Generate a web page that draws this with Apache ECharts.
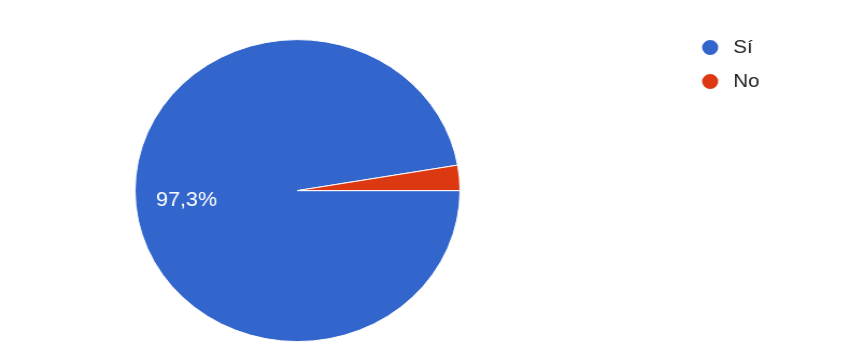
<!DOCTYPE html>
<html>
<head>
<meta charset="utf-8">
<script src="https://cdn.jsdelivr.net/npm/echarts@6/dist/echarts.min.js"></script>
<style>
  html, body { margin: 0; padding: 0; background: #ffffff; overflow: hidden; }
  #wrap { width: 847px; height: 353px; position: relative; overflow: hidden; }
  #chart { width: 787px; height: 353px; position: absolute; left: 0; top: 0;
           transform: scaleX(1.076); transform-origin: 0 0; }
</style>
</head>
<body>
<div id="wrap"><div id="chart"></div></div>
<script>
const categories = ['Sí', 'No'];
const values = [97.3, 2.7];
const colors = ['#3366cc', '#dc3912'];

const pieData = categories.map((c, i) => ({ name: c, value: values[i], itemStyle: { color: colors[i] } }));

const chart = echarts.init(document.getElementById('chart'), null, { renderer: 'canvas' });
chart.setOption({
  backgroundColor: '#ffffff',
  animation: false,
  legend: {
    orient: 'vertical',
    left: 650.5,
    top: 38,
    padding: 0,
    icon: 'circle',
    itemWidth: 17,
    itemHeight: 17,
    itemGap: 15,
    data: categories,
    textStyle: { fontFamily: 'Liberation Sans, Arial, sans-serif', fontSize: 19, color: '#222222', padding: [0, 0, 0, 8] }
  },
  series: [
    {
      type: 'pie',
      center: [276.5, 190.6],
      radius: [0, 151],
      startAngle: 0,
      clockwise: true,
      silent: true,
      label: { show: false },
      labelLine: { show: false },
      itemStyle: { borderColor: '#ffffff', borderWidth: 1 },
      data: pieData
    },
    {
      type: 'pie',
      center: [276.5, 192],
      radius: [51, 150],
      startAngle: 0,
      clockwise: true,
      silent: true,
      legendHoverLink: false,
      itemStyle: { color: 'rgba(0,0,0,0)', borderWidth: 0 },
      label: {
        show: true,
        position: 'inside',
        color: '#ffffff',
        fontFamily: 'Liberation Sans, Arial, sans-serif',
        fontSize: 20,
        formatter: p => (p.percent >= 5 ? p.percent.toFixed(1).replace('.', ',') + '%' : '')
      },
      labelLine: { show: false },
      data: categories.map((c, i) => ({ name: c + ' ', value: values[i] }))
    }
  ]
});
</script>
</body>
</html>
